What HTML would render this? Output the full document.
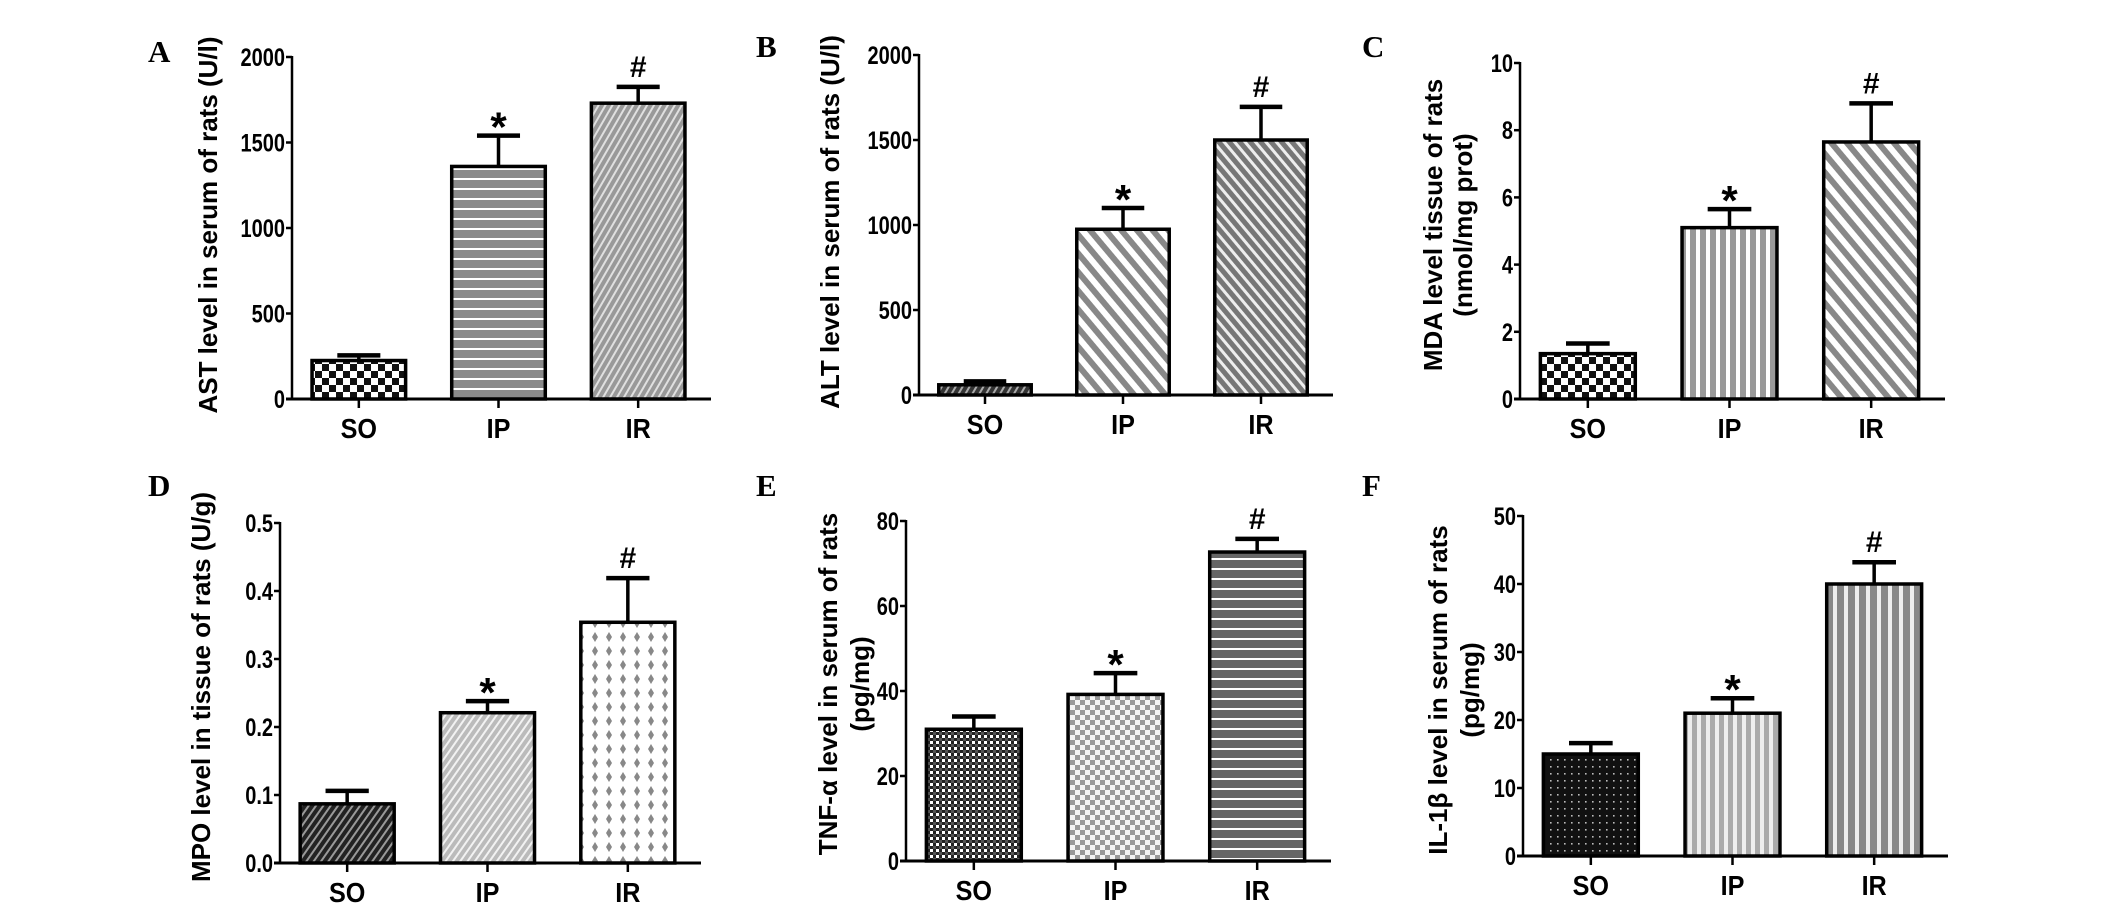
<!DOCTYPE html>
<html><head><meta charset="utf-8"><title>Serum and tissue markers</title>
<style>
html,body{margin:0;padding:0;background:#fff;}
svg{display:block;}
text{font-family:"Liberation Sans",Arial,sans-serif;font-weight:bold;fill:#000;}
.lbl{font-family:"Liberation Serif","Times New Roman",serif;font-size:31px;}
</style></head>
<body>
<svg id="fig" width="2126" height="908" viewBox="0 0 2126 908" xmlns="http://www.w3.org/2000/svg">
<defs>
  <pattern id="pChecker" width="14" height="14" patternUnits="userSpaceOnUse"><rect width="14" height="14" fill="#fff"/><rect width="7" height="7" fill="#111"/><rect x="7" y="7" width="7" height="7" fill="#111"/></pattern>
  <pattern id="pHStripe" width="10" height="10" patternUnits="userSpaceOnUse"><rect width="10" height="10" fill="#8a8a8a"/><rect y="8" width="10" height="2" fill="#fff"/></pattern>
  <pattern id="pHStripeDark" width="10" height="10" patternUnits="userSpaceOnUse"><rect width="10" height="10" fill="#666"/><rect y="8" width="10" height="2" fill="#fff"/></pattern>
  <pattern id="pFineDiag" width="6" height="6" patternUnits="userSpaceOnUse" patternTransform="rotate(30)"><rect width="6" height="6" fill="#999"/><rect width="2" height="6" fill="#e0e0e0"/></pattern>
  <pattern id="pDarkDiag" width="6" height="6" patternUnits="userSpaceOnUse" patternTransform="rotate(30)"><rect width="6" height="6" fill="#333"/><rect width="2" height="6" fill="#aaa"/></pattern>
  <pattern id="pDiagB" width="12" height="12" patternUnits="userSpaceOnUse" patternTransform="rotate(-40)"><rect width="12" height="12" fill="#fff"/><rect width="6" height="12" fill="#888"/></pattern>
  <pattern id="pDiagBFine" width="8" height="8" patternUnits="userSpaceOnUse" patternTransform="rotate(-40)"><rect width="8" height="8" fill="#eee"/><rect width="5" height="8" fill="#777"/></pattern>
  <pattern id="pVStripe" width="10" height="10" patternUnits="userSpaceOnUse"><rect width="10" height="10" fill="#fff"/><rect width="6" height="10" fill="#999"/></pattern>
  <pattern id="pVStripeLight" width="9" height="9" patternUnits="userSpaceOnUse"><rect width="9" height="9" fill="#eee"/><rect width="5" height="9" fill="#aaa"/></pattern>
  <pattern id="pVStripeGray" width="11" height="11" patternUnits="userSpaceOnUse"><rect width="11" height="11" fill="#eee"/><rect width="7" height="11" fill="#888"/></pattern>
  <pattern id="pDarkFineDiag" width="6" height="6" patternUnits="userSpaceOnUse" patternTransform="rotate(35)"><rect width="6" height="6" fill="#222"/><rect width="2" height="6" fill="#999"/></pattern>
  <pattern id="pLightDiag" width="6" height="6" patternUnits="userSpaceOnUse" patternTransform="rotate(35)"><rect width="6" height="6" fill="#bbb"/><rect width="2" height="6" fill="#f2f2f2"/></pattern>
  <pattern id="pDiamond" width="14" height="14" patternUnits="userSpaceOnUse"><rect width="14" height="14" fill="#fff"/><path d="M7 2 L10 7 L7 12 L4 7Z" fill="#888"/></pattern>
  <pattern id="pDarkCheck" width="6" height="6" patternUnits="userSpaceOnUse"><rect width="6" height="6" fill="#fff"/><rect width="3" height="3" fill="#222"/><rect x="3" y="3" width="3" height="3" fill="#222"/><rect x="3" width="3" height="3" fill="#555"/></pattern>
  <pattern id="pGrayCheck" width="10" height="10" patternUnits="userSpaceOnUse"><rect width="10" height="10" fill="#f4f4f4"/><rect width="5" height="5" fill="#999"/><rect x="5" y="5" width="5" height="5" fill="#999"/></pattern>
  <pattern id="pBlackDots" width="7" height="7" patternUnits="userSpaceOnUse"><rect width="7" height="7" fill="#111"/><rect x="3" y="3" width="1.6" height="1.6" fill="#bbb"/></pattern>
</defs>
</svg>
<script>
// ---- data ----
const categories = ['SO','IP','IR'];
const markers = ['', '*', '#'];
const astMeans = [225, 1360, 1730];
const astErrTop = [255, 1540, 1825];
const altMeans = [60, 975, 1500];
const altErrTop = [80, 1100, 1695];
const mdaMeans = [1.35, 5.1, 7.65];
const mdaErrTop = [1.65, 5.65, 8.8];
const mpoMeans = [0.087, 0.221, 0.354];
const mpoErrTop = [0.106, 0.238, 0.419];
const tnfMeans = [31, 39.2, 72.7];
const tnfErrTop = [34, 44.2, 75.8];
const il1Means = [15, 21, 40];
const il1ErrTop = [16.6, 23.2, 43.2];
const astTicks = [0, 500, 1000, 1500, 2000];
const altTicks = [0, 500, 1000, 1500, 2000];
const mdaTicks = [0, 2, 4, 6, 8, 10];
const mpoTicks = [0, 0.1, 0.2, 0.3, 0.4, 0.5];
const tnfTicks = [0, 20, 40, 60, 80];
const il1Ticks = [0, 10, 20, 30, 40, 50];

// ---- layout ----
const NS = 'http://www.w3.org/2000/svg';
const svg = document.getElementById('fig');
function mk(tag, attrs, parent){ const e = document.createElementNS(NS, tag); for (const k in attrs) e.setAttribute(k, attrs[k]); (parent||svg).appendChild(e); return e; }

const panels = [
 {id:'a', letter:'A', lx:148, ly:62, x0:292, x1:711, y0:399, y1:57, max:2000, ticks:astTicks, dec:0, means:astMeans, errs:astErrTop,
  fills:['pChecker','pHStripe','pFineDiag'], title:['AST level in serum of rats (U/l)'], tx:[208], ty:225},
 {id:'b', letter:'B', lx:756, ly:57, x0:919, x1:1333, y0:395, y1:55, max:2000, ticks:altTicks, dec:0, means:altMeans, errs:altErrTop,
  fills:['pDarkDiag','pDiagB','pDiagBFine'], title:['ALT level in serum of rats (U/l)'], tx:[830], ty:222},
 {id:'c', letter:'C', lx:1362, ly:57, x0:1520, x1:1945, y0:399, y1:63, max:10, ticks:mdaTicks, dec:0, means:mdaMeans, errs:mdaErrTop,
  fills:['pChecker','pVStripe','pDiagB'], title:['MDA level tissue of rats','(nmol/mg prot)'], tx:[1433,1463], ty:225},
 {id:'d', letter:'D', lx:148, ly:496, x0:280, x1:701, y0:863, y1:523, max:0.5, ticks:mpoTicks, dec:1, means:mpoMeans, errs:mpoErrTop,
  fills:['pDarkFineDiag','pLightDiag','pDiamond'], title:['MPO level in tissue of rats (U/g)'], tx:[201], ty:687},
 {id:'e', letter:'E', lx:756, ly:496, x0:906, x1:1331, y0:861, y1:521, max:80, ticks:tnfTicks, dec:0, means:tnfMeans, errs:tnfErrTop,
  fills:['pDarkCheck','pGrayCheck','pHStripeDark'], title:['TNF-α level in serum of rats','(pg/mg)'], tx:[828,860], ty:684},
 {id:'f', letter:'F', lx:1362, ly:496, x0:1523, x1:1948, y0:856, y1:516, max:50, ticks:il1Ticks, dec:0, means:il1Means, errs:il1ErrTop,
  fills:['pBlackDots','pVStripeLight','pVStripeGray'], title:['IL-1β level in serum of rats','(pg/mg)'], tx:[1438,1470], ty:690}
];

panels.forEach(p => {
  const g = mk('g', {});
  
  
  const yS = v => p.y0 - (v / p.max) * (p.y0 - p.y1);
  const band = (p.x1 - p.x0) / 3;
  const xC = i => p.x0 + (i + 0.5) * band - 3;
  const bw = band * 0.67;

  const lt = mk('text', {x:p.lx, y:p.ly, class:'lbl'}, g);
  lt.textContent = p.letter;
  
  

  const tt = mk('text', {'font-size':26, 'text-anchor':'middle', transform:'rotate(-90)'}, g);
  
  
  p.title.forEach((line, k) => {
    const ts = mk('tspan', {x:-p.ty, y:p.tx[k] + 9}, tt);
    ts.textContent = line;
  });

  categories.forEach((c, i) => {
    const top = yS(p.means[i]);
    const et = yS(p.errs[i]);
    const cx = xC(i);
    const eb = mk('line', {x1:cx, x2:cx, y1:top, y2:et, stroke:'#000', 'stroke-width':3.5}, g);
    
    
    const cap = mk('line', {x1:cx - bw*0.23, x2:cx + bw*0.23, y1:et, y2:et, stroke:'#000', 'stroke-width':4.5}, g);
    
    
    const r = mk('rect', {x:cx - bw/2, y:top, width:bw, height:p.y0 - top, fill:'url(#' + p.fills[i] + ')', stroke:'#000', 'stroke-width':3.5}, g);
    
    
    if (markers[i]) {
      const m = mk('text', {x:cx, y:et - (markers[i] === '*' ? -6 : 10), 'font-size': markers[i] === '*' ? 42 : 30, 'text-anchor':'middle'}, g);
      m.textContent = markers[i];
      
      
    }
    const tk = mk('line', {x1:cx, x2:cx, y1:p.y0, y2:p.y0 + 9, stroke:'#000', 'stroke-width':2.5}, g);
    
    
    const xl = mk('text', {x:cx / 0.9, y:p.y0 + 39, 'font-size':28, 'text-anchor':'middle', transform:'scale(0.9,1)'}, g);
    xl.textContent = c;
    
    
  });

  const ya = mk('line', {x1:p.x0, x2:p.x0, y1:p.y1 - 1, y2:p.y0 + 1, stroke:'#000', 'stroke-width':2.5}, g);
  
  
  const xa = mk('line', {x1:p.x0 - 6, x2:p.x1, y1:p.y0, y2:p.y0, stroke:'#000', 'stroke-width':3}, g);
  
  
  p.ticks.forEach(t => {
    const y = yS(t);
    const tl = mk('line', {x1:p.x0 - 6, x2:p.x0, y1:y, y2:y, stroke:'#000', 'stroke-width':2.5}, g);
    
    
    const lab = mk('text', {x:(p.x0 - 7) / 0.8, y:y + 9, 'font-size':25, 'text-anchor':'end', transform:'scale(0.8,1)'}, g);
    lab.textContent = t.toFixed(p.dec);
    
    
  });
});
</script>
</body></html>
